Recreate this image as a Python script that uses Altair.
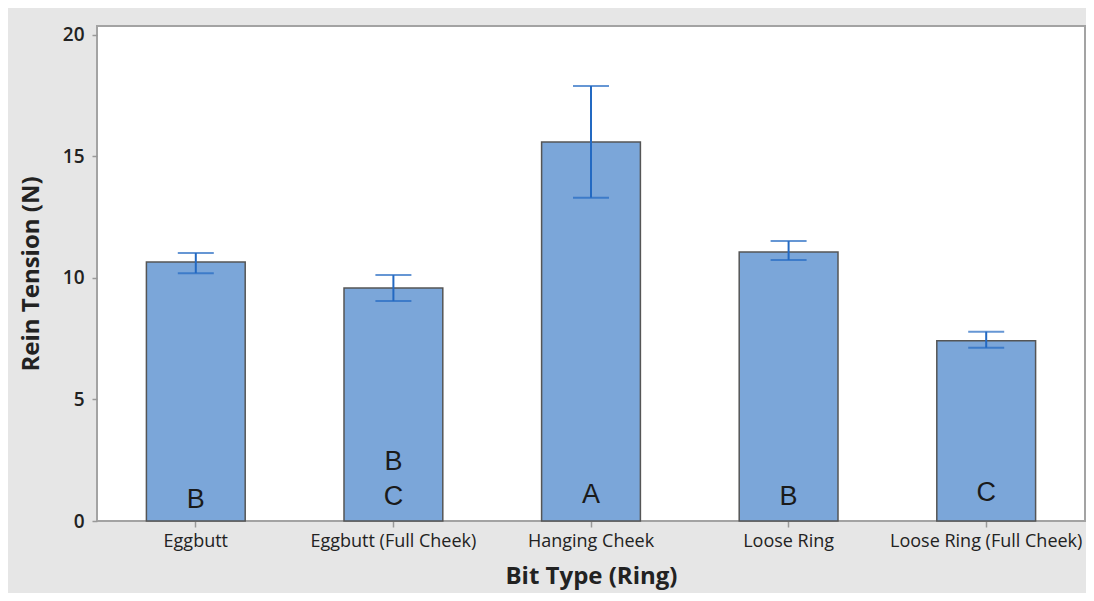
import altair as alt
import pandas as pd

categories = ["Eggbutt", "Eggbutt (Full Cheek)", "Hanging Cheek", "Loose Ring", "Loose Ring (Full Cheek)"]
means = [10.66, 9.59, 15.6, 11.07, 7.42]
upper = [11.03, 10.12, 17.9, 11.52, 7.79]
lower = [10.2, 9.05, 13.3, 10.74, 7.13]

letter_cats = ["Eggbutt", "Eggbutt (Full Cheek)", "Eggbutt (Full Cheek)", "Hanging Cheek", "Loose Ring", "Loose Ring (Full Cheek)"]
letters = ["B", "B", "C", "A", "B", "C"]
letter_pos = [0.86, 2.42, 0.98, 1.05, 0.98, 1.15]

df = pd.DataFrame({"cat": categories, "mean": means, "hi": upper, "lo": lower})
dl = pd.DataFrame({"cat": letter_cats, "letter": letters, "pos": letter_pos})

FONT = "Open Sans"

x = alt.X("cat:N", sort=categories,
          scale=alt.Scale(paddingInner=0.5, paddingOuter=0.25),
          axis=alt.Axis(title="Bit Type (Ring)", labelAngle=0, labelFont=FONT, labelFontSize=18,
                        labelColor="#222222", tickColor="#999999", tickSize=6, tickWidth=1.5,
                        domain=False, labelPadding=5, labelLimit=0,
                        titleFont=FONT, titleFontSize=24, titleFontWeight="bold",
                        titleColor="#222222", titlePadding=14))
yscale = alt.Scale(domain=[0, 20.37], nice=False, zero=True)
y_axis = alt.Axis(title="Rein Tension (N)", values=[0, 5, 10, 15, 20], labelFont=FONT,
                  labelFontSize=19, labelFontWeight=600, labelColor="#222222",
                  tickColor="#999999", tickSize=5, tickWidth=1.5, domain=False, grid=False,
                  labelPadding=8, titleFont=FONT, titleFontSize=24, titleFontWeight="bold",
                  titleColor="#222222", titlePadding=19)

bars = alt.Chart(df).mark_bar(color="#7ba6d9", stroke="#555555", strokeWidth=1.5).encode(
    x=x, y=alt.Y("mean:Q", scale=yscale, axis=y_axis))

rules = alt.Chart(df).mark_rule(color="#2369c2", strokeWidth=2).encode(
    x=alt.X("cat:N", sort=categories), y="hi:Q", y2="lo:Q")
cap_hi = alt.Chart(df).mark_tick(color="#2369c2", thickness=2, size=36).encode(
    x=alt.X("cat:N", sort=categories), y="hi:Q")
cap_lo = alt.Chart(df).mark_tick(color="#2369c2", thickness=2, size=36).encode(
    x=alt.X("cat:N", sort=categories), y="lo:Q")

text = alt.Chart(dl).mark_text(font="Liberation Sans", fontSize=27, color="#1a1a1a",
                               baseline="middle").encode(
    x=alt.X("cat:N", sort=categories), y="pos:Q", text="letter:N")

chart = alt.layer(bars, rules, cap_hi, cap_lo, text).properties(
    width=988, height=495, background="#e6e6e6",
    autosize=alt.AutoSizeParams(type="none"),
    padding={"left": 89, "top": 18, "right": 1, "bottom": 72},
).configure_view(fill="white", stroke="#a3a3a3", strokeWidth=2)

chart.save("out.html", embed_options={"renderer": "svg", "actions": False})
